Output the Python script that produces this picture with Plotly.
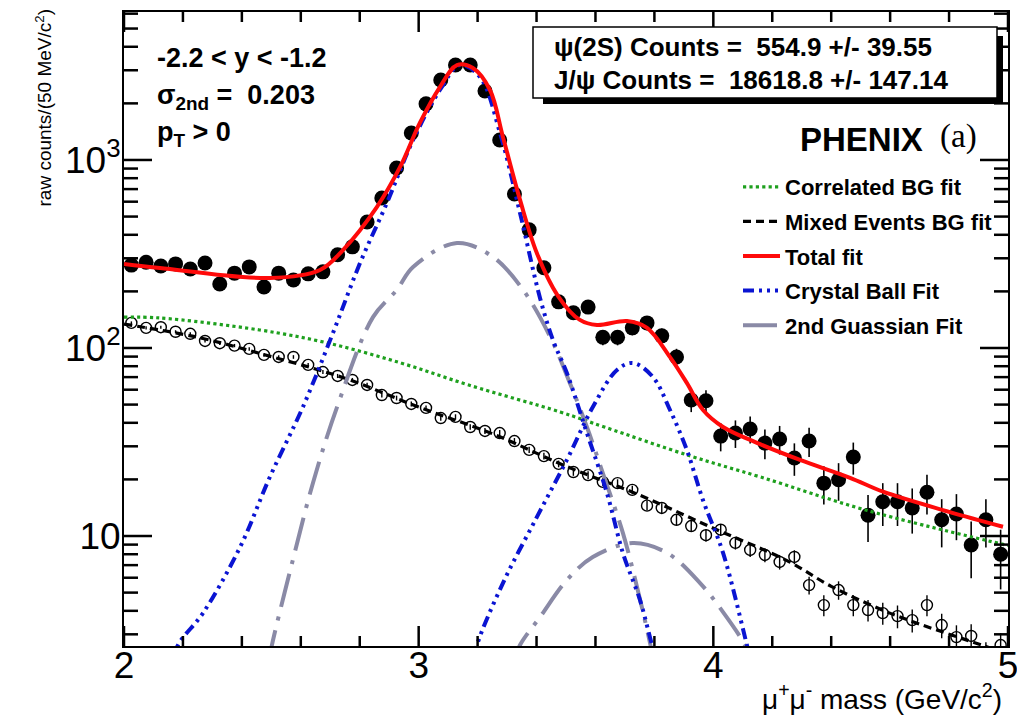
import math
import plotly.graph_objects as go

# ---------------- data ----------------
bin_centers = [round(2.025 + 0.05 * i, 3) for i in range(60)]

data_counts = [276, 286, 273, 280, 263, 283, 219, 250, 270, 211,
               250, 230, 248, 254, 313, 345, 468, 628, 907, 1392,
               1988, 2665, 3201, 3201, 2328, 1277, 659, 425, 267, 176,
               154, 165, 114, 114, 128, 136, 116, 89.5, 52.9, 52.4,
               34.0, 35.3, 37.1, 31.2, 32.8, 26.0, 32.0, 19.1, 19.9, 26.3,
               12.9, 15.2, 15.2, 14.1, 17.1, 12.2, 13.1, 8.96, 12.2, 8.0]
data_err = [16.6, 16.9, 16.5, 16.7, 16.2, 16.8, 14.8, 15.8, 16.4, 14.5,
            15.8, 15.2, 15.7, 15.9, 17.7, 18.6, 21.6, 25.1, 30.1, 37.3,
            44.6, 51.6, 56.6, 56.6, 48.2, 35.7, 25.7, 20.6, 16.3, 13.3,
            12.4, 12.8, 10.7, 10.7, 11.3, 11.7, 10.8, 9.5, 7.3, 7.2,
            5.8, 5.9, 6.1, 5.6, 5.7, 5.1, 5.7, 4.4, 4.5, 5.1,
            3.6, 3.9, 3.9, 3.8, 4.1, 3.5, 3.6, 3.0, 3.5, 2.8]

mixed_counts = [136, 128, 129, 122, 119, 109, 106, 103, 98.9, 91.9,
                89.6, 89.6, 81.3, 74.5, 71.0, 67.6, 63.6, 56.2, 54.2, 50.4,
                48.0, 42.4, 43.0, 38.0, 36.2, 35.3, 32.0, 28.7, 26.6, 24.2,
                21.9, 21.1, 19.4, 19.1, 17.6, 14.5, 14.1, 12.2, 11.3, 10.1,
                10.8, 9.19, 8.43, 7.93, 7.28, 7.74, 5.48, 4.29, 5.16, 4.29,
                4.04, 3.89, 3.75, 3.57, 4.29, 3.36, 2.90, 2.94, 2.3, 2.63]
mixed_err = [2.5, 2.4, 2.4, 2.3, 2.3, 2.2, 2.2, 2.1, 2.1, 2.0,
             2.0, 2.0, 1.9, 1.8, 1.8, 1.7, 1.7, 1.6, 1.6, 1.5,
             1.5, 1.4, 1.4, 1.3, 1.3, 1.3, 1.2, 1.1, 1.1, 1.0,
             1.0, 1.0, 0.95, 0.93, 0.9, 0.85, 0.84, 0.8, 0.78, 0.75,
             0.75, 0.72, 0.7, 0.68, 0.65, 0.66, 0.6, 0.55, 0.58, 0.55,
             0.53, 0.52, 0.52, 0.5, 0.55, 0.5, 0.45, 0.45, 0.42, 0.42]

# fit curves
corr_x = [2.0, 2.12, 2.46, 2.69, 2.94, 3.17, 3.48, 3.63, 3.92, 4.16, 4.52, 5.0]
corr_y = [146, 144.5, 124.7, 106.4, 83.2, 63.5, 45.7, 38.0, 26.7, 20.6, 13.7, 8.9]

mix_x = [2.0, 2.25, 2.5, 2.75, 3.0, 3.25, 3.5, 3.75, 4.0, 4.25, 4.4, 4.58, 4.7, 4.92, 5.0]
mix_y = [134, 114, 90, 69, 48.5, 35, 23.5, 16.5, 11, 7.4, 5.4, 4.0, 3.4, 2.6, 2.35]

tot_x = [2.0, 2.122, 2.495, 2.665, 2.743, 2.858, 2.937, 3.004, 3.072, 3.130, 3.184,
         3.242, 3.286, 3.344, 3.401, 3.473, 3.547, 3.605, 3.707, 3.775, 3.853,
         3.910, 3.965, 4.033, 4.148, 4.294, 4.464, 4.576, 4.803, 4.983]
tot_y = [280, 266.5, 235.6, 260, 332, 562, 918, 1574, 2443, 3199, 3083,
         2356, 1325, 613, 320, 189, 141, 132.5, 139, 128, 89.5,
         65.2, 46.8, 38.0, 31.3, 25.4, 20.4, 17.2, 13.4, 11.2]

cb_jpsi_x = [2.156, 2.183, 2.268, 2.394, 2.495, 2.607, 2.709, 2.801, 2.892, 2.981, 3.072,
             3.140, 3.208, 3.276, 3.344, 3.412, 3.456, 3.503, 3.571, 3.639, 3.693,
             3.751, 3.792, 3.812]
cb_jpsi_y = [1.94, 2.63, 3.89, 8.73, 20.6, 48.5, 120, 283, 590, 1277, 2355,
             3199, 2763, 1392, 522, 184, 110, 73.6, 35.3, 16.9, 8.13,
             4.57, 2.63, 2.06]

g2_jpsi_x = [2.49, 2.502, 2.573, 2.641, 2.723, 2.845, 2.926, 2.981, 3.130, 3.252, 3.354,
             3.446, 3.513, 3.571, 3.625, 3.693, 3.741, 3.785, 3.80]
g2_jpsi_y = [2.1, 2.63, 7.45, 19.1, 48.5, 146, 204, 270, 362, 305, 204,
             115, 65.2, 38.0, 21.6, 10.4, 5.36, 2.70, 2.06]

cb_psi2s_x = [3.185, 3.198, 3.286, 3.401, 3.503, 3.591, 3.673, 3.727, 3.795, 3.853,
              3.910, 3.965, 4.033, 4.114, 4.131]
cb_psi2s_y = [2.06, 2.63, 5.62, 12.6, 25.4, 48.5, 76.4, 83.2, 70.1, 46.8,
              28.7, 15.5, 8.13, 2.63, 2.06]

g2_psi2s_x = [3.32, 3.344, 3.412, 3.503, 3.591, 3.727, 3.843, 3.955, 4.033, 4.107, 4.13]
g2_psi2s_y = [2.1, 2.63, 3.71, 5.83, 7.73, 9.18, 8.13, 5.62, 3.94, 2.63, 2.1]

y_tick_vals = [10, 100, 1000]
y_tick_text = ["10", "10<sup>2</sup>", "10<sup>3</sup>"]
y_minor_vals = [3, 4, 5, 6, 7, 8, 9, 20, 30, 40, 50, 60, 70, 80, 90,
                200, 300, 400, 500, 600, 700, 800, 900, 2000, 3000, 4000, 5000, 6000]
x_tick_vals = [2, 3, 4, 5]
x_tick_text = ["2", "3", "4", "5"]
x_minor_vals = [2.2, 2.4, 2.6, 2.8, 3.2, 3.4, 3.6, 3.8, 4.2, 4.4, 4.6, 4.8]

# ---------------- layout helpers ----------------
W, H = 1017, 716
L, R, T, B = 124, 1008, 12, 646
PW, PH = R - L, B - T
XR = [2, 5]
YR = [0.415, 3.787]
def px(x):
    return (x - L) / PW
def py(y):
    return (B - y) / PH

FONT = "Liberation Sans, Arial, Helvetica, sans-serif"
GREEN = "#1ea01e"
BLUE = "#0a14d2"
GRAY = "#8a8aa6"
RED = "#ff0a0a"

fig = go.Figure()

# data
fig.add_trace(go.Scatter(
    x=bin_centers, y=data_counts, mode="markers",
    marker=dict(symbol="circle", size=15, color="black"),
    error_y=dict(type="data", array=data_err, color="black", thickness=1.6, width=0),
    showlegend=False))
fig.add_trace(go.Scatter(
    x=bin_centers, y=mixed_counts, mode="markers",
    marker=dict(symbol="circle-open", size=11, color="black", line=dict(width=1.4)),
    error_y=dict(type="data", array=mixed_err, color="black", thickness=1.4, width=0),
    showlegend=False))

# fits
DASH_BLUE = "11px,5px,3px,5px,3px,5px,3px,5px"
DASH_GRAY = "34px,10px,4px,10px"
fig.add_trace(go.Scatter(
    x=corr_x, y=corr_y, mode="lines", line=dict(color=GREEN, width=3.2, dash="dot", shape="spline"),
    name="Correlated BG fit", legendgroup="g1", legendrank=1))
fig.add_trace(go.Scatter(
    x=mix_x, y=mix_y, mode="lines", line=dict(color="black", width=3.2, dash="8px,5px", shape="spline"),
    name="Mixed Events BG fit", legendgroup="g2", legendrank=2))
fig.add_trace(go.Scatter(
    x=g2_jpsi_x, y=g2_jpsi_y, mode="lines",
    line=dict(color=GRAY, width=4, dash=DASH_GRAY, shape="spline"),
    name="2nd Guassian Fit", legendgroup="g5", legendrank=5))
fig.add_trace(go.Scatter(
    x=g2_psi2s_x, y=g2_psi2s_y, mode="lines",
    line=dict(color=GRAY, width=4, dash=DASH_GRAY, shape="spline"),
    name="2nd Guassian Fit", legendgroup="g5", legendrank=5, showlegend=False))
fig.add_trace(go.Scatter(
    x=cb_jpsi_x, y=cb_jpsi_y, mode="lines",
    line=dict(color=BLUE, width=4, dash=DASH_BLUE, shape="spline"),
    name="Crystal Ball Fit", legendgroup="g4", legendrank=4))
fig.add_trace(go.Scatter(
    x=cb_psi2s_x, y=cb_psi2s_y, mode="lines",
    line=dict(color=BLUE, width=4, dash=DASH_BLUE, shape="spline"),
    name="Crystal Ball Fit", legendgroup="g4", legendrank=4, showlegend=False))
fig.add_trace(go.Scatter(
    x=tot_x, y=tot_y, mode="lines", line=dict(color=RED, width=4, shape="spline"),
    name="Total fit", legendgroup="g3", legendrank=3))

fig.update_layout(
    width=W, height=H,
    margin=dict(l=L, r=W - R, t=T, b=H - B, autoexpand=False),
    paper_bgcolor="white", plot_bgcolor="white",
    font=dict(family=FONT, color="black"),
    legend=dict(x=px(738), y=py(166), xanchor="left", yanchor="top",
                bgcolor="rgba(0,0,0,0)", borderwidth=0,
                font=dict(size=22, family=FONT, weight="bold"),
                tracegroupgap=3, itemwidth=37, traceorder="grouped"),
    xaxis=dict(range=XR, showgrid=False, zeroline=False, automargin=False,
               showline=True, linecolor="black", linewidth=2, mirror=True,
               ticks="", tickmode="array", tickvals=x_tick_vals, ticktext=x_tick_text,
               tickfont=dict(size=37, family=FONT), ticklabelstandoff=-14,
               ticklabeloverflow="allow"),
    yaxis=dict(type="log", range=YR, showgrid=False, zeroline=False, automargin=False,
               showline=True, linecolor="black", linewidth=2, mirror=True,
               ticks="", tickmode="array", tickvals=y_tick_vals, ticktext=y_tick_text,
               tickfont=dict(size=37, family=FONT), ticklabelstandoff=-6,
               ticklabeloverflow="allow"),
)

# ROOT-style inside ticks on all four sides, as paper-referenced line shapes
def xfrac(v):
    return (v - XR[0]) / (XR[1] - XR[0])
def yfrac(v):
    return (math.log10(v) - YR[0]) / (YR[1] - YR[0])
tick_line = dict(color="black", width=2.5)
for vals, ln in ((x_tick_vals, 20), (x_minor_vals, 10)):
    for v in vals:
        f = xfrac(v)
        fig.add_shape(type="line", xref="paper", yref="paper", x0=f, x1=f,
                      y0=0, y1=ln / PH, line=tick_line, layer="above")
        fig.add_shape(type="line", xref="paper", yref="paper", x0=f, x1=f,
                      y0=1, y1=1 - ln / PH, line=tick_line, layer="above")
for vals, ln in ((y_tick_vals, 28), (y_minor_vals, 14)):
    for v in vals:
        f = yfrac(v)
        fig.add_shape(type="line", xref="paper", yref="paper", y0=f, y1=f,
                      x0=0, x1=ln / PW, line=tick_line, layer="above")
        fig.add_shape(type="line", xref="paper", yref="paper", y0=f, y1=f,
                      x0=1, x1=1 - ln / PW, line=tick_line, layer="above")

# info box with shadow
fig.add_shape(type="rect", xref="paper", yref="paper",
              x0=px(543), x1=px(1003), y0=py(104), y1=py(36),
              fillcolor="black", line=dict(width=0), layer="above")
fig.add_shape(type="rect", xref="paper", yref="paper",
              x0=px(533), x1=px(997), y0=py(98), y1=py(27),
              fillcolor="white", line=dict(color="black", width=1.5), layer="above")

def txt(s, x, y, size, xanchor="left", bold=True, family=FONT, **kw):
    fig.add_annotation(text=s, x=px(x), y=py(y), xref="paper", yref="paper",
                       xanchor=xanchor, yanchor="middle", showarrow=False,
                       font=dict(size=size, family=family, color="black",
                                 weight="bold" if bold else "normal"), **kw)

txt("ψ(2S) Counts =  554.9 +/- 39.55", 552, 47, 26)
txt("J/ψ Counts =  18618.8 +/- 147.14", 552, 80, 26)
txt("-2.2 < y < -1.2", 155, 58, 27)
txt("σ<sub>2nd</sub> =  0.203", 155, 97, 27)
txt("p<sub>T</sub> > 0", 155, 134, 27)
txt("PHENIX", 798, 140, 33)
txt("(a)", 938, 136, 33, bold=False, family="Liberation Serif, DejaVu Serif, serif")

# axis titles
txt("μ<sup>+</sup>μ<sup>-</sup> mass (GeV/c<sup>2</sup>)", 1004, 697, 28, xanchor="right", bold=False)
fig.add_annotation(text="raw counts/(50 MeV/c<sup>2</sup>)", x=px(43), y=py(8),
                   xref="paper", yref="paper", xanchor="center", yanchor="top",
                   textangle=-90, showarrow=False,
                   font=dict(size=19, family=FONT, color="black"))

fig.write_html("out.html", config={"displayModeBar": False},
               post_script="document.body.style.margin='0px';")
